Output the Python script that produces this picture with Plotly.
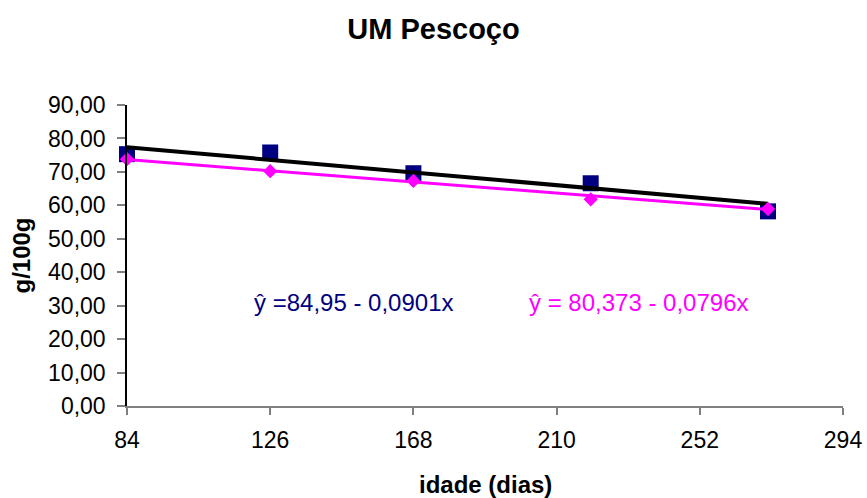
import plotly.graph_objects as go

# ---- data ----
idade = [84, 126, 168, 220, 272]
serie_azul = [75.3, 75.8, 69.6, 66.6, 58.2]
serie_rosa = [73.8, 70.2, 67.3, 61.8, 58.9]
trend_azul = [84.95, -0.0901]      # intercept, slope
trend_rosa = [80.373, -0.0796]
x_ticks = [84, 126, 168, 210, 252, 294]
y_ticks = [0, 10, 20, 30, 40, 50, 60, 70, 80, 90]
eq_azul = "ŷ =84,95 - 0,0901x"
eq_rosa = "ŷ = 80,373 - 0,0796x"

NAVY = "#000080"
PINK = "#FF00FF"
FONT = "Liberation Sans, Arial, sans-serif"

trend_x = [idade[0], idade[-1]]
ta = [trend_azul[0] + trend_azul[1] * v for v in trend_x]
tr = [trend_rosa[0] + trend_rosa[1] * v for v in trend_x]

fig = go.Figure()
fig.add_trace(go.Scatter(x=idade, y=serie_azul, mode="markers", cliponaxis=False,
                         marker=dict(symbol="square", size=16, color=NAVY),
                         showlegend=False, hoverinfo="x+y"))
fig.add_trace(go.Scatter(x=trend_x, y=ta, mode="lines", cliponaxis=False,
                         line=dict(color="black", width=4),
                         showlegend=False, hoverinfo="skip"))
fig.add_trace(go.Scatter(x=trend_x, y=tr, mode="lines", cliponaxis=False,
                         line=dict(color=PINK, width=3),
                         showlegend=False, hoverinfo="skip"))
fig.add_trace(go.Scatter(x=idade, y=serie_rosa, mode="markers", cliponaxis=False,
                         marker=dict(symbol="diamond", size=11, color=PINK),
                         showlegend=False, hoverinfo="x+y"))

fig.add_annotation(x=120.8, y=30.8, xref="x", yref="y", text=eq_azul,
                   showarrow=False, xanchor="left", yanchor="middle",
                   font=dict(family=FONT, size=24, color=NAVY))
fig.add_annotation(x=201.4, y=30.8, xref="x", yref="y", text=eq_rosa,
                   showarrow=False, xanchor="left", yanchor="middle",
                   font=dict(family=FONT, size=24, color=PINK))

# axis titles
fig.add_annotation(x=0.5, y=0, xref="paper", yref="paper", yshift=-78,
                   text="<b>idade (dias)</b>", showarrow=False,
                   xanchor="center", yanchor="middle",
                   font=dict(family=FONT, size=24, color="black"))
fig.add_annotation(x=0, y=0.5, xref="paper", yref="paper", xshift=-106,
                   text="<b>g/100g</b>", showarrow=False, textangle=-90,
                   xanchor="center", yanchor="middle",
                   font=dict(family=FONT, size=24, color="black"))

fig.update_layout(
    width=867, height=498,
    margin=dict(l=127, r=24, t=105, b=92, autoexpand=False),
    paper_bgcolor="white", plot_bgcolor="white",
    separators=",.",
    font=dict(family=FONT, color="black"),
    title=dict(text="<b>UM Pescoço</b>", x=0.5, xanchor="center", xref="container",
               y=1 - 29 / 498, yanchor="middle", yref="container",
               font=dict(family=FONT, size=29, color="black")),
    xaxis=dict(range=[84, 294], tickvals=x_ticks, ticktext=[str(v) for v in x_ticks],
               automargin=False,
               showline=True, linecolor="#808080", linewidth=1.5,
               ticks="outside", ticklen=7, tickcolor="#808080", tickwidth=1.5,
               showgrid=False, zeroline=False,
               tickfont=dict(family=FONT, size=23, color="black"),
               ticklabelstandoff=6),
    yaxis=dict(range=[0, 90], tickvals=y_ticks, tickformat=".2f",
               automargin=False,
               showline=True, linecolor="black", linewidth=1.5,
               ticks="outside", ticklen=8, tickcolor="#808080", tickwidth=1.5,
               showgrid=False, zeroline=False,
               tickfont=dict(family=FONT, size=23, color="black"),
               ticklabelstandoff=7),
)

fig.write_html("out.html", config={"displayModeBar": False},
               post_script="document.body.style.margin='0';document.body.style.overflow='hidden';")
